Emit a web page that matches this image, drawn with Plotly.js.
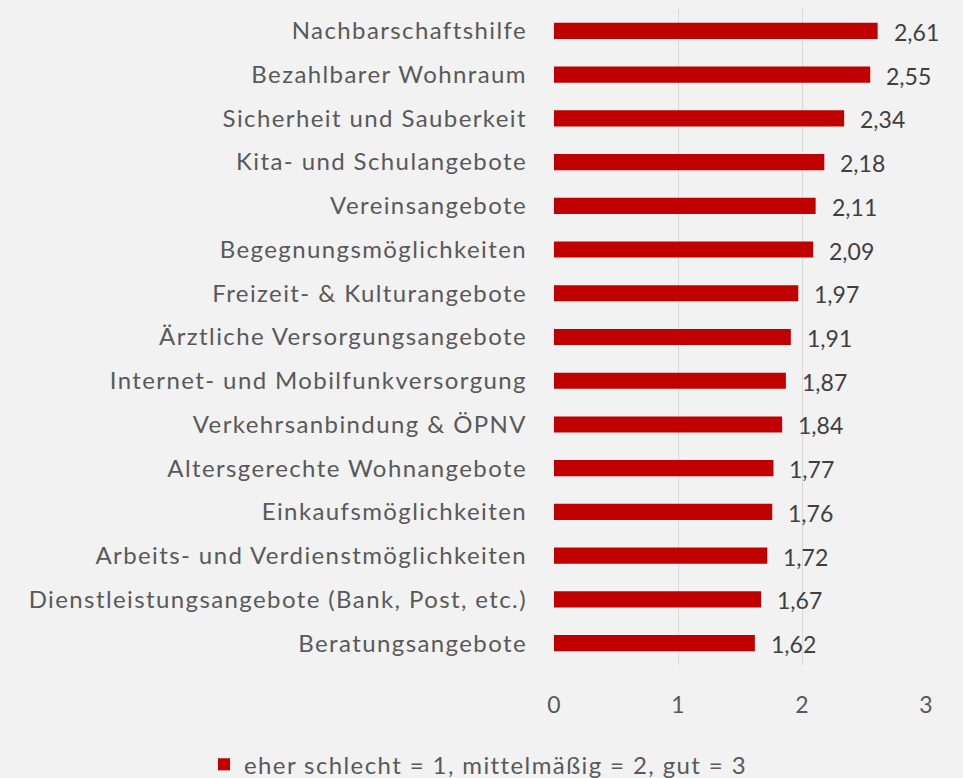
<!DOCTYPE html>
<html>
<head>
<meta charset="utf-8">
<script src="https://cdn.plot.ly/plotly-3.0.1.min.js"></script>
<style>
  html, body { margin: 0; padding: 0; background: #f2f2f2; }
  #chart { width: 963px; height: 778px; }
  /* the original labels are set a little wider than Lato */
  #chart .ytick text, #chart .legendtext { letter-spacing: 1.4px; }
</style>
</head>
<body>
<div id="chart"></div>
<script>
// ratings, top to bottom as in the chart
var categories = [
    'Nachbarschaftshilfe',
    'Bezahlbarer Wohnraum',
    'Sicherheit und Sauberkeit',
    'Kita- und Schulangebote',
    'Vereinsangebote',
    'Begegnungsmöglichkeiten',
    'Freizeit- & Kulturangebote',
    'Ärztliche Versorgungsangebote',
    'Internet- und Mobilfunkversorgung',
    'Verkehrsanbindung & ÖPNV',
    'Altersgerechte Wohnangebote',
    'Einkaufsmöglichkeiten',
    'Arbeits- und Verdienstmöglichkeiten',
    'Dienstleistungsangebote (Bank, Post, etc.)',
    'Beratungsangebote'
];
var ratings = [2.61, 2.55, 2.34, 2.18, 2.11, 2.09, 1.97, 1.91, 1.87, 1.84, 1.77, 1.76, 1.72, 1.67, 1.62];
var seriesName = 'eher schlecht = 1, mittelmäßig = 2, gut = 3';
var xTicks = [0, 1, 2, 3];

var fontFamily = 'Lato, sans-serif';
var textColor = '#595959';

var trace = {
    type: 'bar',
    orientation: 'h',
    x: ratings,
    y: categories,
    name: seriesName,
    width: 0.37,
    marker: { color: '#c00000' },
    hoverinfo: 'x+y'
};

// value labels a bit away from the bar ends
var labels = [];
for (let i = 0; i < ratings.length; i++) {
    labels.push({
        x: ratings[i],
        y: categories[i],
        text: ratings[i].toFixed(2).replace('.', ','),
        xanchor: 'left',
        yanchor: 'middle',
        xshift: 14,
        yshift: -1,
        showarrow: false,
        font: { family: fontFamily, size: 23, color: '#404040' }
    });
}

var layout = {
    width: 963,
    height: 778,
    paper_bgcolor: '#f2f2f2',
    plot_bgcolor: '#f2f2f2',
    margin: { l: 554, r: 37, t: 9, b: 113 },
    separators: ',.',
    font: { family: fontFamily, size: 24, color: textColor },
    bargap: 0.63,
    showlegend: true,
    legend: {
        orientation: 'h',
        xref: 'container',
        yref: 'container',
        x: 0.5,
        xanchor: 'center',
        y: 0.017,
        yanchor: 'middle',
        entrywidth: 510,
        itemwidth: 30,
        font: { family: fontFamily, size: 24, color: textColor }
    },
    xaxis: {
        range: [0, 3],
        tickvals: xTicks,
        showgrid: true,
        gridcolor: '#d9d9d9',
        gridwidth: 1,
        zeroline: false,
        showline: false,
        ticks: '',
        ticklabelstandoff: 24,
        tickfont: { family: fontFamily, size: 23, color: textColor },
        fixedrange: true
    },
    yaxis: {
        type: 'category',
        autorange: 'reversed',
        showgrid: false,
        zeroline: false,
        showline: false,
        ticks: '',
        ticklabelstandoff: 26,
        tickfont: { family: fontFamily, size: 24, color: textColor },
        fixedrange: true
    },
    annotations: labels
};

Plotly.newPlot('chart', [trace], layout, { displayModeBar: false, staticPlot: true });
</script>
</body>
</html>
